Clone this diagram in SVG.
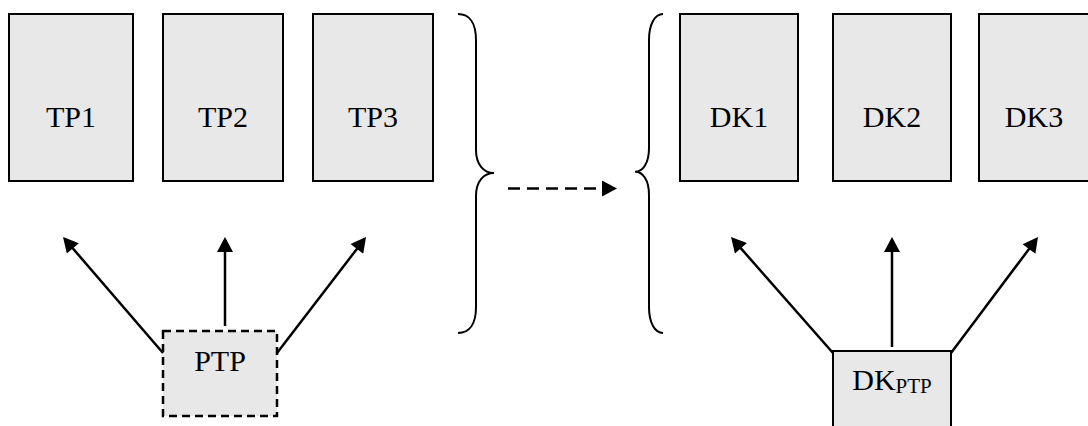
<svg xmlns="http://www.w3.org/2000/svg" width="1088" height="426" viewBox="0 0 1088 426">
<style>
.box{fill:#e8e8e8;stroke:#000;stroke-width:2}
.dbox{fill:#e8e8e8;stroke:#000;stroke-width:2.5;stroke-dasharray:8,5}
.lbl{font-family:"Liberation Serif","Times New Roman",serif;font-size:30px;fill:#000;text-anchor:middle}
.sub{font-size:21px}
.conn{stroke:#000;stroke-width:2.5;fill:none}
.brace{stroke:#000;stroke-width:2;fill:none}
</style>
<defs>
<marker id="ah" markerUnits="userSpaceOnUse" markerWidth="16" markerHeight="16" viewBox="0 0 15 16" refX="12" refY="8" orient="auto">
<path d="M0,0 L15,8 L0,16 z" fill="#000"/>
</marker>
</defs>
<rect width="1088" height="426" fill="#fff"/>
<g id="TP1"><rect class="box" x="9" y="14" width="124" height="167"/><text class="lbl" x="71" y="127">TP1</text></g>
<g id="TP2"><rect class="box" x="163" y="14" width="120" height="167"/><text class="lbl" x="223" y="127">TP2</text></g>
<g id="TP3"><rect class="box" x="313" y="14" width="120" height="167"/><text class="lbl" x="373" y="127">TP3</text></g>
<g id="DK1"><rect class="box" x="680" y="14" width="118" height="167"/><text class="lbl" x="739" y="127">DK1</text></g>
<g id="DK2"><rect class="box" x="833" y="14" width="118" height="167"/><text class="lbl" x="892" y="127">DK2</text></g>
<g id="DK3"><rect class="box" x="979" y="14" width="118" height="167"/><text class="lbl" x="1034" y="127">DK3</text></g>
<g id="PTP"><rect class="dbox" x="163" y="331" width="114" height="85"/><text class="lbl" x="220" y="371">PTP</text></g>
<g id="DKPTP"><rect class="box" x="833" y="351" width="118" height="90"/><text class="lbl" x="892" y="390">DK<tspan class="sub" dy="3">PTP</tspan></text></g>
<g id="braces">
<path class="brace" d="M458,14 C470,14 476,24 476,40 L476,150 C476,165 484,173 494,173 C484,173 476,181 476,196 L476,307 C476,323 470,333 458,333"/>
<path class="brace" d="M663,14 C655,14 649,24 649,40 L649,148 C649,163 643,171.7 635,171.7 C643,171.7 649,180 649,195 L649,307 C649,323 655,333 663,333"/>
</g>
<g id="connectors">
<path class="conn" d="M163,353 L65,239.3" marker-end="url(#ah)"/>
<path class="conn" d="M225,326 L225,240" marker-end="url(#ah)"/>
<path class="conn" d="M277,353 L364.2,239.4" marker-end="url(#ah)"/>
<path class="conn" d="M833,353 L733,239.3" marker-end="url(#ah)"/>
<path class="conn" d="M892,347 L892,240" marker-end="url(#ah)"/>
<path class="conn" d="M951,353 L1036.2,239.4" marker-end="url(#ah)"/>
<path class="conn" d="M508,188.5 L614,188.5" stroke-dasharray="12,7" marker-end="url(#ah)"/>
</g>
</svg>
